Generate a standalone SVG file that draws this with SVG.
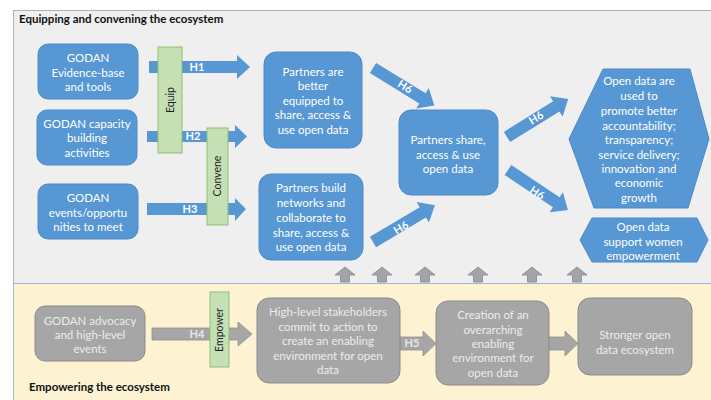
<svg xmlns="http://www.w3.org/2000/svg" width="711" height="400" viewBox="0 0 711 400">
<defs>
<style>
.blue{fill:#5797d3;stroke:#4f8ac6;stroke-width:1}
.gray{fill:#a6a6a6;stroke:#8c8c8c;stroke-width:1}
.green{fill:#c5e0b4;stroke:#8fbf70;stroke-width:1}
.barr{fill:#5797d3}
.garr{fill:#a6a6a6;stroke:#909090;stroke-width:0.8}
.uarr{fill:#a3a4a8;stroke:#7d8894;stroke-width:0.8}
.t{font-family:Lato,"Open Sans","Liberation Sans",sans-serif;font-size:11.5px;text-anchor:middle}
.w{fill:#ffffff}
.lg{fill:#ececec}
.hl{font-family:Lato,"Liberation Sans",sans-serif;font-size:11px;font-weight:bold;fill:#ffffff;text-anchor:middle}
.vl{font-family:Lato,"Liberation Sans",sans-serif;font-size:10.5px;fill:#1e1e1e;text-anchor:middle}
.title{font-family:Lato,"Liberation Sans",sans-serif;font-size:11.5px;font-weight:bold;fill:#111111}
</style>
<polygon id="h6" points="0,-6 58,-6 58,-12 72,0 58,12 58,6 0,6"/>
<polygon id="up" points="-4.5,282 -4.5,275 -10,275 0,267 10,275 4.5,275 4.5,282"/>
</defs>
<rect x="0" y="0" width="711" height="400" fill="#ffffff"/>
<g id="panel-top">
<rect x="13.5" y="10.5" width="700" height="273" fill="#efefef" stroke="#a8b2cc" stroke-width="1"/>
<text class="title" x="19" y="23">Equipping and convening the ecosystem</text>
</g>
<g id="panel-bottom">
<rect x="13.5" y="283.5" width="700" height="120" fill="#fdf2d1" stroke="#a8b2cc" stroke-width="1"/>
<text class="title" x="29" y="391">Empowering the ecosystem</text>
</g>
<g id="connectors">
<polygon class="barr" points="149,61 237,61 237,55 250,67 237,79 237,73 149,73"/>
<polygon class="barr" points="147,131 235,131 235,125 247,136.5 235,148 235,142 147,142"/>
<polygon class="barr" points="147,203 235,203 235,198 246,209 235,221 235,215 147,215"/>
<polygon class="garr" points="152,328 238,328 238,322 252,334 238,346 238,340 152,340"/>
<polygon class="garr" points="400,337 423,337 423,331 436,343.5 423,356 423,350 400,350"/>
<polygon class="garr" points="549,337 565,337 565,331 578,343.5 565,356 565,350 549,350"/>
<use href="#h6" class="barr" transform="translate(373,68) rotate(31.5)"/>
<use href="#h6" class="barr" transform="translate(507,137) rotate(-31.8)"/>
<use href="#h6" class="barr" transform="translate(508,170) rotate(33.7)"/>
<use href="#h6" class="barr" transform="translate(373,242) rotate(-30.8)"/>
<use href="#up" class="uarr" transform="translate(345,0)"/>
<use href="#up" class="uarr" transform="translate(382,0)"/>
<use href="#up" class="uarr" transform="translate(425,0)"/>
<use href="#up" class="uarr" transform="translate(478,0)"/>
<use href="#up" class="uarr" transform="translate(532,0)"/>
<use href="#up" class="uarr" transform="translate(577,0)"/>
<text class="hl" x="197" y="71">H1</text>
<text class="hl" x="193" y="140">H2</text>
<text class="hl" x="190" y="213">H3</text>
<text class="hl" x="197" y="338" style="fill:#e6e6e6">H4</text>
<text class="hl" x="412" y="347" style="fill:#e6e6e6">H5</text>
<text class="hl" transform="translate(403,90) rotate(31.5)">H6</text>
<text class="hl" transform="translate(538,121) rotate(-31.8)">H6</text>
<text class="hl" transform="translate(535,196) rotate(33.7)">H6</text>
<text class="hl" transform="translate(403,231) rotate(-30.8)">H6</text>
</g>
<g id="equip">
<rect class="green" x="158" y="47" width="24" height="106"/>
<text class="vl" transform="translate(173.5,100) rotate(-90)">Equip</text>
</g>
<g id="convene">
<rect class="green" x="207" y="128" width="21" height="97"/>
<text class="vl" transform="translate(221,176) rotate(-90)">Convene</text>
</g>
<g id="empower">
<rect class="green" x="210" y="292" width="19" height="75"/>
<text class="vl" transform="translate(223,330) rotate(-90)">Empower</text>
</g>
<g id="n-evidence">
<rect class="blue" x="38" y="44" width="100" height="55" rx="10"/>
<text class="t w" x="88"><tspan x="88" y="62">GODAN</tspan><tspan x="88" y="77">Evidence-base</tspan><tspan x="88" y="91">and tools</tspan></text>
</g>
<g id="n-capacity">
<rect class="blue" x="37" y="110" width="100" height="55" rx="10"/>
<text class="t w"><tspan x="87" y="128">GODAN capacity</tspan><tspan x="87" y="142">building</tspan><tspan x="87" y="157">activities</tspan></text>
</g>
<g id="n-events">
<rect class="blue" x="38" y="184" width="100" height="55" rx="10"/>
<text class="t w"><tspan x="88" y="202">GODAN</tspan><tspan x="88" y="217">events/opportu</tspan><tspan x="88" y="231">nities to meet</tspan></text>
</g>
<g id="n-equipped">
<rect class="blue" x="264" y="52" width="98" height="96" rx="12"/>
<text class="t w"><tspan x="313" y="76">Partners are</tspan><tspan x="313" y="90">better</tspan><tspan x="313" y="105">equipped to</tspan><tspan x="313" y="119">share, access &amp;</tspan><tspan x="313" y="134">use open data</tspan></text>
</g>
<g id="n-networks">
<rect class="blue" x="259" y="174" width="104" height="86" rx="12"/>
<text class="t w"><tspan x="311" y="192">Partners build</tspan><tspan x="311" y="207">networks and</tspan><tspan x="311" y="222">collaborate to</tspan><tspan x="311" y="237">share, access &amp;</tspan><tspan x="311" y="251">use open data</tspan></text>
</g>
<g id="n-share">
<rect class="blue" x="399" y="110" width="99" height="85" rx="12"/>
<text class="t w"><tspan x="448" y="144">Partners share,</tspan><tspan x="448" y="159">access &amp; use</tspan><tspan x="448" y="173">open data</tspan></text>
</g>
<g id="n-accountability">
<polygon class="blue" points="603,69 690,69 709,139 688,208 594,208 569,139"/>
<text class="t w"><tspan x="639" y="85">Open data are</tspan><tspan x="639" y="100">used to</tspan><tspan x="639" y="115">promote better</tspan><tspan x="639" y="130">accountability;</tspan><tspan x="639" y="144">transparency;</tspan><tspan x="639" y="159">service delivery;</tspan><tspan x="639" y="173">innovation and</tspan><tspan x="639" y="187">economic</tspan><tspan x="639" y="202">growth</tspan></text>
</g>
<g id="n-women">
<polygon class="blue" points="580,240 592,218 697,218 708,240 697,262 592,262"/>
<text class="t w"><tspan x="643" y="231">Open data</tspan><tspan x="643" y="246">support women</tspan><tspan x="643" y="260">empowerment</tspan></text>
</g>
<g id="n-advocacy">
<rect class="gray" x="35" y="306" width="110" height="55" rx="10"/>
<text class="t lg"><tspan x="90" y="325">GODAN advocacy</tspan><tspan x="90" y="339">and high-level</tspan><tspan x="90" y="353">events</tspan></text>
</g>
<g id="n-stakeholders">
<rect class="gray" x="257" y="298" width="143" height="85" rx="12"/>
<text class="t lg"><tspan x="328" y="316">High-level stakeholders</tspan><tspan x="328" y="331">commit to action to</tspan><tspan x="328" y="345">create an enabling</tspan><tspan x="328" y="360">environment for open</tspan><tspan x="328" y="374">data</tspan></text>
</g>
<g id="n-creation">
<rect class="gray" x="436" y="301" width="113" height="84" rx="12"/>
<text class="t lg"><tspan x="493" y="319">Creation of an</tspan><tspan x="493" y="334">overarching</tspan><tspan x="493" y="348">enabling</tspan><tspan x="493" y="362">environment for</tspan><tspan x="493" y="377">open data</tspan></text>
</g>
<g id="n-stronger">
<rect class="gray" x="578" y="298" width="114" height="77" rx="12"/>
<text class="t lg"><tspan x="635" y="339">Stronger open</tspan><tspan x="635" y="354">data ecosystem</tspan></text>
</g>
</svg>
